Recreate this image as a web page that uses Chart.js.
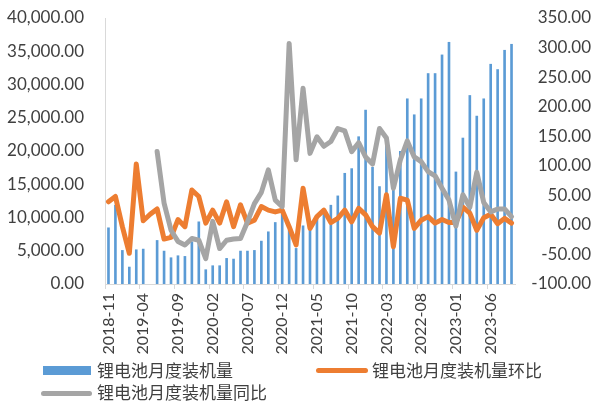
<!DOCTYPE html>
<html>
<head>
<meta charset="utf-8">
<script src="https://cdn.jsdelivr.net/npm/chart.js@4.4.0/dist/chart.umd.min.js"></script>
<style>
    html, body { margin: 0; padding: 0; background: #fff; }
    #wrap { position: relative; width: 591px; height: 402px; overflow: hidden; }
    #chart { position: absolute; left: 0; top: 0; }
    .mark { position: absolute; }
    .ltext {
        position: absolute;
        font-family: "Noto Sans CJK SC", sans-serif;
        font-size: 17px;
        line-height: 20px;
        color: #404040;
        white-space: nowrap;
    }
</style>
</head>
<body>
<div id="wrap">
    <canvas id="chart" width="591" height="402"></canvas>

    <div class="mark" style="left:43px; top:366px; width:48px; height:9px; background:#5B9BD5;"></div>
    <div class="ltext" style="left:97px; top:360px;">锂电池月度装机量</div>

    <div class="mark" style="left:316px; top:368px; width:52px; height:5px; border-radius:3px; background:#ED7D31;"></div>
    <div class="ltext" style="left:372px; top:360px;">锂电池月度装机量环比</div>

    <div class="mark" style="left:41px; top:391px; width:51px; height:5px; border-radius:3px; background:#A5A5A5;"></div>
    <div class="ltext" style="left:97px; top:382px;">锂电池月度装机量同比</div>
</div>

<script>
const months = [
    "2018-11", "2018-12", "2019-01", "2019-02", "2019-03", "2019-04", "2019-05", "2019-06",
    "2019-07", "2019-08", "2019-09", "2019-10", "2019-11", "2019-12", "2020-01", "2020-02",
    "2020-03", "2020-04", "2020-05", "2020-06", "2020-07", "2020-08", "2020-09", "2020-10",
    "2020-11", "2020-12", "2021-01", "2021-02", "2021-03", "2021-04", "2021-05", "2021-06",
    "2021-07", "2021-08", "2021-09", "2021-10", "2021-11", "2021-12", "2022-01", "2022-02",
    "2022-03", "2022-04", "2022-05", "2022-06", "2022-07", "2022-08", "2022-09", "2022-10",
    "2022-11", "2022-12", "2023-01", "2023-02", "2023-03", "2023-04", "2023-05", "2023-06",
    "2023-07", "2023-08", "2023-09"
];

// 锂电池月度装机量 (left axis)
const installed = [
    8500, 11900, 5100, 2600, 5200, 5300, null, 6600,
    5000, 4000, 4300, 4200, 6400, 9400, 2200, 2800,
    2800, 3900, 3800, 5000, 5000, 5100, 6500, 7900,
    9300, 11200, 8100, 5400, 8800, 9100, 10000, 10900,
    11900, 13300, 16700, 17400, 22200, 26200, 17600, 14700,
    22000, 14900, 20000, 27900, 25500, 27900, 31700, 31700,
    34500, 36400, 16900, 22000, 28400, 25300, 27900, 33100,
    32300, 35200, 36100
];

// 环比 (right axis, %)
const momPct = [
    39, 48, -3, -48, 103, 7, 18, 27,
    -24, -21, 9, -3, 59, 48, 3, 25,
    3, 39, -3, 34, 3, 8, 31, 25,
    22, 25, -3, -34, 62, -6, 14, 25,
    4, 11, 25, 5, 28, 17, -3, -14,
    51, -37, 45, 42, -6, 8, 14, 3,
    9, 4, 4, 30, 20, -9, 12, 18,
    2, 11, 3
];

// 同比 (right axis, %)
const yoyPct = [
    null, null, null, null, null, null, null, 124,
    37, -9, -28, -34, -23, -26, -57, 6,
    -40, -26, -24, -23, 5, 36, 55, 93,
    42, 31, 307, 110, 231, 121, 149, 133,
    141, 163, 159, 124, 139, 115, 103, 163,
    147, 62, 110, 142, 115, 107, 90, 83,
    62, 42, -2, 51, 30, 89, 38, 22,
    27, 27, 14
];

const tickFont = { family: "Lato", size: 17 };
const tickColor = "#404040";
const axisColor = "#D9D9D9";

// fixed axis boxes so the plot area lands where the original one is
function fitYAxis(width) {
    return s => {
        s.width = width;
        s.paddingTop = 0;
        s.paddingBottom = 0;
    };
}

const ctx = document.getElementById("chart").getContext("2d");

new Chart(ctx, {
    type: "bar",
    data: {
        labels: months,
        datasets: [
            {
                type: "line",
                label: "锂电池月度装机量同比",
                data: yoyPct,
                yAxisID: "yRight",
                borderColor: "#A5A5A5",
                borderWidth: 5,
                pointRadius: 0,
                tension: 0,
                borderJoinStyle: "round",
                borderCapStyle: "round",
                order: 0
            },
            {
                type: "line",
                label: "锂电池月度装机量环比",
                data: momPct,
                yAxisID: "yRight",
                borderColor: "#ED7D31",
                borderWidth: 5,
                pointRadius: 0,
                tension: 0,
                borderJoinStyle: "round",
                borderCapStyle: "round",
                order: 1
            },
            {
                type: "bar",
                label: "锂电池月度装机量",
                data: installed,
                yAxisID: "yLeft",
                backgroundColor: "#5B9BD5",
                barPercentage: 0.38,
                categoryPercentage: 1,
                order: 2
            }
        ]
    },
    options: {
        responsive: false,
        animation: false,
        layout: {
            padding: { top: 18, bottom: 48, left: 0, right: 0 }
        },
        plugins: {
            legend: { display: false },
            tooltip: { enabled: false }
        },
        scales: {
            x: {
                offset: true,
                grid: {
                    offset: true,
                    drawOnChartArea: false,
                    drawTicks: true,
                    tickLength: 5,
                    color: c => (c.index % 5 === 0 ? axisColor : "rgba(0,0,0,0)")
                },
                border: { color: axisColor },
                ticks: {
                    autoSkip: false,
                    minRotation: 90,
                    maxRotation: 90,
                    padding: 4,
                    font: { family: "Lato", size: 16 },
                    color: tickColor,
                    callback: (v, i) => (i % 5 === 0 ? months[i] : "")
                },
                afterFit: s => { s.height = 70; }
            },
            yLeft: {
                position: "left",
                min: 0,
                max: 40000,
                grid: { display: false, drawTicks: false },
                border: { display: true, color: axisColor },
                ticks: {
                    stepSize: 5000,
                    padding: 21,
                    font: tickFont,
                    color: tickColor,
                    callback: v => v.toLocaleString("en-US", {
                        minimumFractionDigits: 2,
                        maximumFractionDigits: 2
                    })
                },
                afterFit: fitYAxis(105)
            },
            yRight: {
                position: "right",
                min: -100,
                max: 350,
                grid: { display: false, drawTicks: false },
                border: { display: false },
                ticks: {
                    stepSize: 50,
                    padding: 10,
                    crossAlign: "far",
                    font: tickFont,
                    color: tickColor,
                    callback: v => v.toFixed(2)
                },
                afterFit: fitYAxis(76)
            }
        }
    }
});
</script>
</body>
</html>
